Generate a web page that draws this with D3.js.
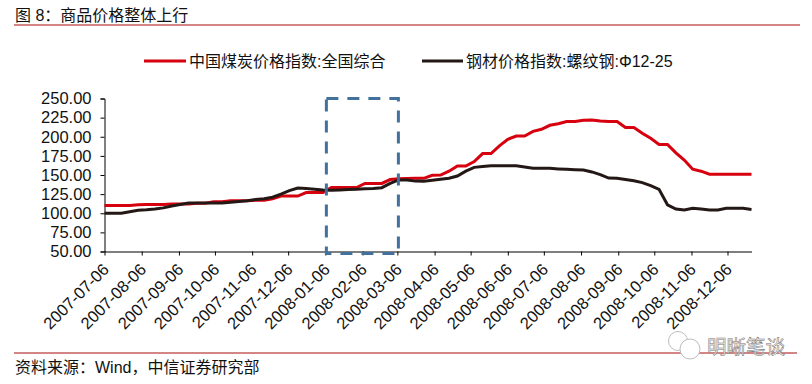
<!DOCTYPE html>
<html>
<head>
<meta charset="utf-8">
<script src="https://cdn.jsdelivr.net/npm/d3@7"></script>
<style>
  body { margin: 0; background: #fff; }
  svg { display: block; }
  text { font-family: "Liberation Sans", "Noto Sans CJK SC", sans-serif; fill: #111; }
</style>
</head>
<body>
<div id="container"></div>
<script>
let w = 812;
let h = 384;

// weekly readings, first one on 2007-07-06
let dates = ["2007-07-06","2007-07-13","2007-07-20","2007-07-27","2007-08-03","2007-08-10","2007-08-17","2007-08-24","2007-08-31","2007-09-07",
  "2007-09-14","2007-09-21","2007-09-28","2007-10-05","2007-10-12","2007-10-19","2007-10-26","2007-11-02","2007-11-09","2007-11-16",
  "2007-11-23","2007-11-30","2007-12-07","2007-12-14","2007-12-21","2007-12-28","2008-01-04","2008-01-11","2008-01-18","2008-01-25",
  "2008-02-01","2008-02-08","2008-02-15","2008-02-22","2008-02-29","2008-03-07","2008-03-14","2008-03-21","2008-03-28","2008-04-04",
  "2008-04-11","2008-04-18","2008-04-25","2008-05-02","2008-05-09","2008-05-16","2008-05-23","2008-05-30","2008-06-06","2008-06-13",
  "2008-06-20","2008-06-27","2008-07-04","2008-07-11","2008-07-18","2008-07-25","2008-08-01","2008-08-08","2008-08-15","2008-08-22",
  "2008-08-29","2008-09-05","2008-09-12","2008-09-19","2008-09-26","2008-10-03","2008-10-10","2008-10-17","2008-10-24","2008-10-31",
  "2008-11-07","2008-11-14","2008-11-21","2008-11-28","2008-12-05","2008-12-12","2008-12-19","2008-12-26"];

let coal = [110,110,110,110,111,111.5,111.5,111.5,112,112,
  112,113,113,115,115,116.5,116.5,116.5,117,117,
  119,122.5,122.5,122.5,127,127,127,133.5,133.5,133.5,
  133.5,139,139,139,144,145,145.5,145.7,145.7,149.6,
  150,155,161.7,161.7,167.5,178,178,188,196.7,201,
  201,207,209.7,215,217,220,220,221.5,222,220.5,
  220,220,212,212,204.5,198,190,190,179,169.6,
  157.5,155,151,151,151,151,151,151];

let steel = [100,100,100,102,104,104.5,105.5,107,109.5,111.5,
  113.4,113.4,113.4,113.4,113.4,114.5,115.5,116.4,118,119,
  121,125,129.5,133,132.5,131.5,130.5,130,130.5,131,
  131.5,132,132.5,133.4,139,143.5,143.5,142,141.7,143,
  144.5,145.7,148.7,155,160,161,162,162,162,162,
  160.5,158.7,158.7,158.7,158,157.5,157,156.5,154,150.5,
  146,145.7,144,142.5,140,136,131.3,111,105.5,104.2,
  106.5,105.5,104.2,104.2,106.5,106.5,106.5,105];

let xTickLabels = ["2007-07-06","2007-08-06","2007-09-06","2007-10-06","2007-11-06","2007-12-06","2008-01-06","2008-02-06","2008-03-06",
  "2008-04-06","2008-05-06","2008-06-06","2008-07-06","2008-08-06","2008-09-06","2008-10-06","2008-11-06","2008-12-06"];
let yTicks = [50,75,100,125,150,175,200,225,250];

let boxDates = ["2008-01-06","2008-03-06"];
let boxValues = [50,250];

let coalName = "中国煤炭价格指数:全国综合";
let steelName = "钢材价格指数:螺纹钢:Φ12-25";
// full-width colon and comma
let titleText = "图 8\uFF1A商品价格整体上行";
let sourceText = "资料来源\uFF1AWind\uFF0C中信证券研究部";

let parseDate = d3.timeParse("%Y-%m-%d");

let viz = d3.select("#container")
  .append("svg")
    .attr("width", w)
    .attr("height", h)
;

let xScale = d3.scaleTime().domain([parseDate(dates[0]), parseDate(dates[dates.length-1])]).range([104.5, 751.5]);
let yScale = d3.scaleLinear().domain([50, 250]).range([251.5, 98.5]);

// header and footer rules
viz.append("text").attr("x",15).attr("y",21).attr("font-size",16).text(titleText);
viz.append("line").attr("x1",14).attr("x2",800).attr("y1",25).attr("y2",25).attr("stroke","#a80c0c").attr("stroke-width",1);
viz.append("line").attr("x1",14).attr("x2",797).attr("y1",353).attr("y2",353).attr("stroke","#a80c0c").attr("stroke-width",1);
viz.append("text").attr("x",15).attr("y",373).attr("font-size",16).text(sourceText);

// legend
viz.append("line").attr("x1",144).attr("x2",186).attr("y1",61).attr("y2",61).attr("stroke","#d7000f").attr("stroke-width",3);
viz.append("text").attr("x",189).attr("y",67).attr("font-size",16).text(coalName);
viz.append("line").attr("x1",422).attr("x2",463).attr("y1",61).attr("y2",61).attr("stroke","#231815").attr("stroke-width",3);
viz.append("text").attr("x",466).attr("y",67).attr("font-size",16).text(steelName);

// axes
let yAxis = d3.axisLeft(yScale).tickValues(yTicks).tickSize(4).tickPadding(9).tickFormat(d3.format(".2f"));
let yAxisGroup = viz.append("g")
    .attr("transform","translate(104.5,0)")
    .call(yAxis)
;
yAxisGroup.selectAll("text").attr("font-size",16.5);

let xAxis = d3.axisBottom(xScale).tickValues(xTickLabels.map(parseDate)).tickSize(4).tickSizeOuter(0).tickFormat(d3.timeFormat("%Y-%m-%d"));
let xAxisGroup = viz.append("g")
    .attr("transform","translate(0,251.5)")
    .call(xAxis)
;
xAxisGroup.selectAll("text")
    .attr("font-size",16.5)
    .attr("text-anchor","end")
    .attr("dy",0)
    .attr("y",0)
    .attr("transform","translate(5,19) rotate(-45)")
;
viz.selectAll(".domain").attr("stroke","#000");
viz.selectAll(".tick line").attr("stroke","#000");

// the two series
let line = d3.line()
    .x(function(d,i){ return xScale(parseDate(dates[i])) })
    .y(function(d){ return yScale(d) })
;
viz.append("path").datum(coal).attr("d",line).attr("fill","none").attr("stroke","#d7000f").attr("stroke-width",3);
viz.append("path").datum(steel).attr("d",line).attr("fill","none").attr("stroke","#231815").attr("stroke-width",3);

// dashed box over the 2008 Jan-Mar window, bottom edge hangs just below the axis
let bx0 = xScale(parseDate(boxDates[0]));
let bx1 = xScale(parseDate(boxDates[1]));
viz.append("rect")
    .attr("x",bx0+1)
    .attr("y",yScale(boxValues[1]))
    .attr("width",bx1-bx0)
    .attr("height",yScale(boxValues[0])-yScale(boxValues[1])+2)
    .attr("fill","none")
    .attr("stroke","#41719c")
    .attr("stroke-width",3)
    .attr("stroke-dasharray","12,9")
;

// watermark
let mark = viz.append("g").attr("fill","none").attr("stroke","#bdbdbd").attr("stroke-width",1);
mark.append("circle").attr("cx",678).attr("cy",341).attr("r",9.5);
mark.append("circle").attr("cx",690).attr("cy",349).attr("r",10).attr("fill","#fff");
viz.append("text").attr("x",707).attr("y",354).attr("font-size",19.5)
    .attr("stroke","#777").attr("stroke-width",0.5).style("fill","#eee").text("明晰笔谈");
</script>
</body>
</html>
